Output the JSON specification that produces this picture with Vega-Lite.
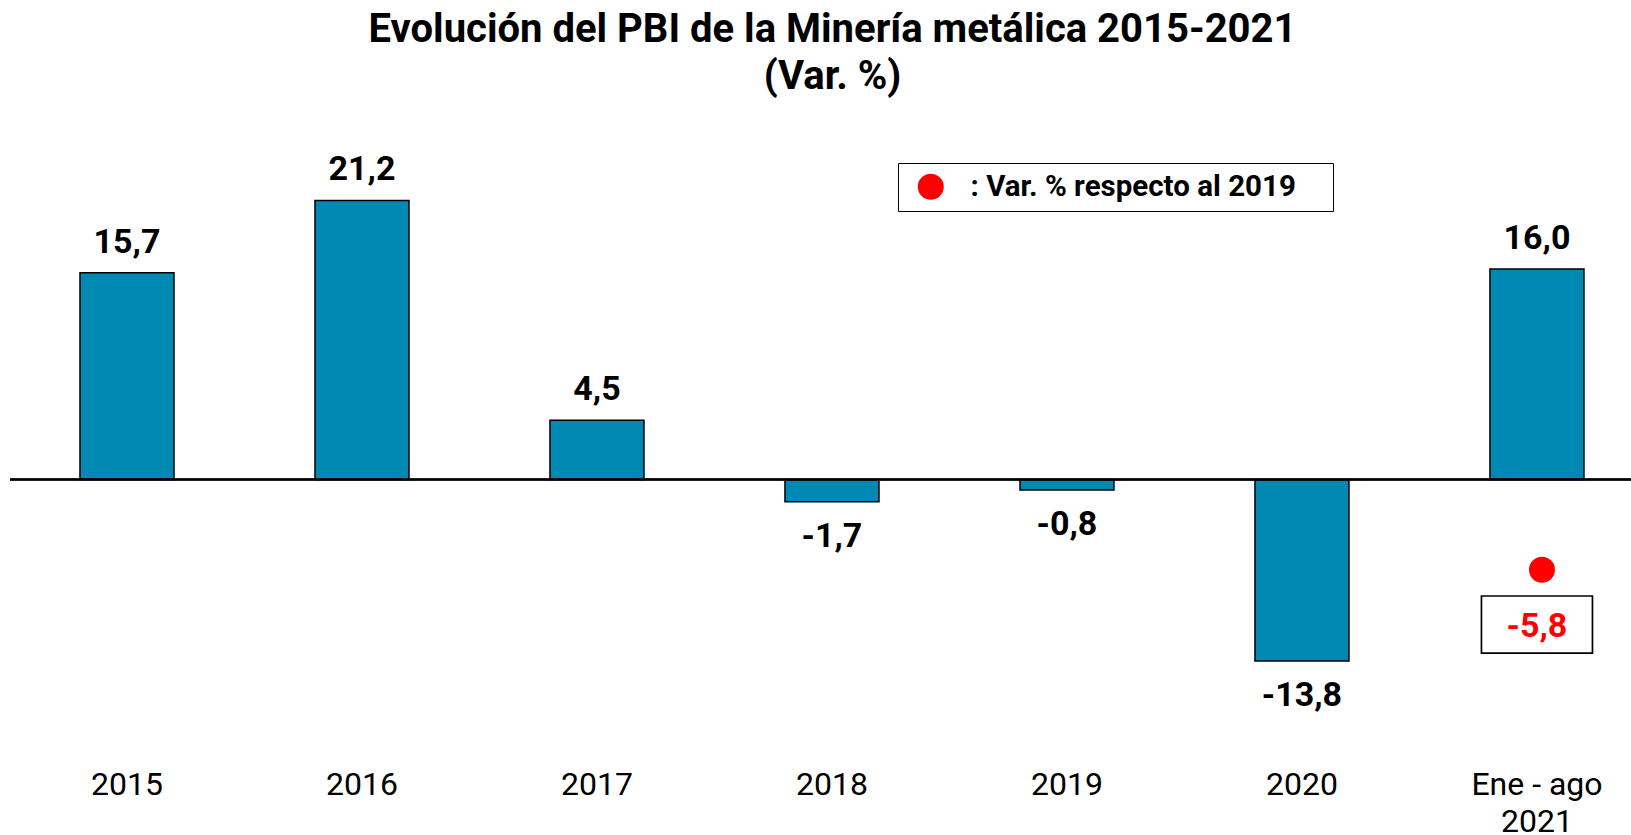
{
  "$schema": "https://vega.github.io/schema/vega-lite/v6.json",
  "width": 1621,
  "height": 605.4,
  "autosize": {"type": "none"},
  "padding": {"left": 10, "top": 137.3, "right": 0, "bottom": 92.3},
  "background": "white",
  "config": {
    "view": {"stroke": null},
    "font": "Roboto",
    "locale": {"number": {"decimal": ",", "thousands": ".", "grouping": [3], "currency": ["", ""], "minus": "-"}}
  },
  "title": {
    "text": ["Evolución del PBI de la Minería metálica 2015-2021", "(Var. %)"],
    "fontSize": 40,
    "font": "Roboto",
    "fontWeight": "bold",
    "color": "black",
    "lineHeight": 47,
    "offset": 40,
    "anchor": "middle",
    "dx": 12
  },
  "data": {
    "values": [
      {"periodo": "2015", "var": 15.7},
      {"periodo": "2016", "var": 21.2},
      {"periodo": "2017", "var": 4.5},
      {"periodo": "2018", "var": -1.7},
      {"periodo": "2019", "var": -0.8},
      {"periodo": "2020", "var": -13.8},
      {"periodo": "Ene - ago 2021", "var": 16.0}
    ]
  },
  "layer": [
    {
      "mark": {"type": "bar", "fill": "#0089B3", "stroke": "black", "strokeWidth": 1.5},
      "encoding": {
        "x": {
          "field": "periodo",
          "type": "ordinal",
          "sort": null,
          "scale": {"paddingInner": 0.6, "paddingOuter": 0.249, "align": 0.598},
          "axis": {
            "title": null,
            "labelAngle": 0,
            "labelFontSize": 32,
            "labelFont": "Roboto",
            "labelColor": "black",
            "ticks": false,
            "domain": false,
            "grid": false,
            "labelPadding": 27,
            "labelLineHeight": 37,
            "labelBaseline": "top",
            "labelExpr": "datum.value == 'Ene - ago 2021' ? ['Ene - ago', '2021'] : datum.value"
          }
        },
        "y": {"field": "var", "type": "quantitative", "scale": {"domain": [-20, 26], "nice": false, "zero": false}, "axis": null}
      }
    },
    {
      "mark": {"type": "rule", "stroke": "black", "strokeWidth": 1.7},
      "encoding": {"y": {"datum": 0, "type": "quantitative"}}
    },
    {
      "transform": [{"filter": "datum.var >= 0"}],
      "mark": {"type": "text", "fontSize": 34, "fontWeight": "bold", "font": "Roboto", "color": "black", "baseline": "alphabetic", "dy": -20},
      "encoding": {
        "x": {"field": "periodo", "type": "ordinal", "sort": null},
        "y": {"field": "var", "type": "quantitative"},
        "text": {"field": "var", "type": "quantitative", "format": ".1f"}
      }
    },
    {
      "transform": [{"filter": "datum.var < 0"}],
      "mark": {"type": "text", "fontSize": 34, "fontWeight": "bold", "font": "Roboto", "color": "black", "baseline": "top", "dy": 18},
      "encoding": {
        "x": {"field": "periodo", "type": "ordinal", "sort": null},
        "y": {"field": "var", "type": "quantitative"},
        "text": {"field": "var", "type": "quantitative", "format": ".1f"}
      }
    },
    {
      "data": {"values": [{"periodo": "Ene - ago 2021", "var19": -5.8, "serie": ": Var. % respecto al 2019"}]},
      "layer": [
        {
          "mark": {"type": "point", "shape": "M-1,-0.514H1V0.514H-1Z", "size": 12321, "filled": true, "fill": "white", "stroke": "black", "strokeWidth": 1.7, "opacity": 1, "yOffset": 68.7},
          "encoding": {
            "x": {"field": "periodo", "type": "ordinal", "sort": null},
            "y": {"field": "var19", "type": "quantitative"}
          }
        },
        {
          "mark": {"type": "text", "fontSize": 34, "fontWeight": "bold", "font": "Roboto", "color": "#FF0000", "baseline": "middle", "dy": 71},
          "encoding": {
            "x": {"field": "periodo", "type": "ordinal", "sort": null},
            "y": {"field": "var19", "type": "quantitative"},
            "text": {"field": "var19", "type": "quantitative", "format": ".1f"}
          }
        },
        {
          "mark": {"type": "point", "filled": true, "size": 676, "opacity": 1, "strokeWidth": 0, "yOffset": 14, "xOffset": 5},
          "encoding": {
            "x": {"field": "periodo", "type": "ordinal", "sort": null},
            "y": {"field": "var19", "type": "quantitative"},
            "color": {
              "field": "serie",
              "type": "nominal",
              "scale": {"range": ["#FF0000"]},
              "legend": {
                "title": "\u00a0",
                "titleOrient": "right",
                "titlePadding": 28,
                "titleFontSize": 29.5,
                "orient": "none",
                "legendX": 888,
                "legendY": 25.7,
                "strokeColor": "black",
                "fillColor": "white",
                "padding": 9,
                "symbolOffset": 9,
                "symbolType": "circle",
                "symbolSize": 676,
                "symbolStrokeWidth": 0,
                "symbolOpacity": 1,
                "labelFont": "Roboto",
                "labelFontWeight": "bold",
                "labelFontSize": 29.5,
                "labelColor": "black",
                "labelOffset": 25,
                "labelLimit": 0
              }
            }
          }
        }
      ]
    }
  ]
}
